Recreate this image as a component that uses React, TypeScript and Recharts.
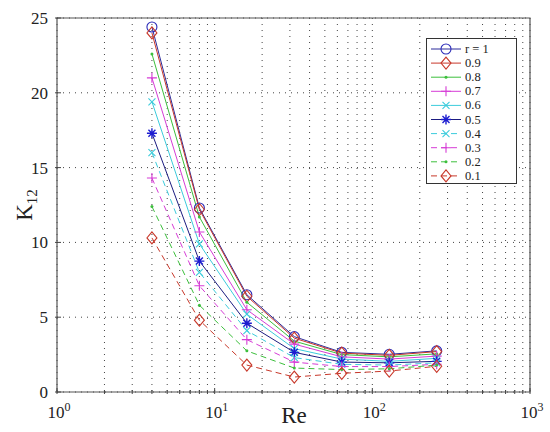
import React from "react";
import {
  CartesianGrid,
  Line,
  LineChart,
  ReferenceArea,
  XAxis,
  YAxis,
} from "recharts";

const RE = [4, 8, 16, 32, 64, 128, 256];

const R10 = [24.4, 12.3, 6.5, 3.7, 2.65, 2.52, 2.75];
const R09 = [24.0, 12.2, 6.4, 3.6, 2.6, 2.45, 2.7];
const R08 = [22.6, 11.7, 6.0, 3.4, 2.5, 2.35, 2.55];
const R07 = [21.0, 10.7, 5.5, 3.2, 2.35, 2.2, 2.4];
const R06 = [19.4, 9.9, 5.2, 2.9, 2.2, 2.05, 2.25];
const R05 = [17.3, 8.75, 4.6, 2.65, 2.0, 1.95, 2.05];
const R04 = [16.0, 8.0, 4.1, 2.3, 1.85, 1.8, 1.95];
const R03 = [14.3, 7.1, 3.5, 2.0, 1.7, 1.7, 1.85];
const R02 = [12.4, 5.8, 2.75, 1.6, 1.5, 1.55, 1.8];
const R01 = [10.3, 4.8, 1.8, 1.0, 1.25, 1.4, 1.72];

const X_TICKS = [
  1, 2, 3, 4, 5, 6, 7, 8, 9, 10, 20, 30, 40, 50, 60, 70, 80, 90, 100, 200,
  300, 400, 500, 600, 700, 800, 900, 1000,
];
const X_MAJOR = [1, 10, 100, 1000];
const X_MAJOR_EXP = ["0", "1", "2", "3"];
const Y_TICKS = [0, 5, 10, 15, 20, 25];

type Shape = "circle" | "diamond" | "point" | "plus" | "x" | "star";

const SERIES: {
  key: string;
  label: string;
  values: number[];
  color: string;
  marker: string;
  shape: Shape;
  dashed: boolean;
}[] = [
  { key: "r10", label: "r = 1", values: R10, color: "#2b2b9a", marker: "#2b2bb8", shape: "circle", dashed: false },
  { key: "r09", label: "0.9", values: R09, color: "#c8382a", marker: "#c8382a", shape: "diamond", dashed: false },
  { key: "r08", label: "0.8", values: R08, color: "#3cbf3c", marker: "#3cbf3c", shape: "point", dashed: false },
  { key: "r07", label: "0.7", values: R07, color: "#d63cd6", marker: "#d63cd6", shape: "plus", dashed: false },
  { key: "r06", label: "0.6", values: R06, color: "#3cccdc", marker: "#3cccdc", shape: "x", dashed: false },
  { key: "r05", label: "0.5", values: R05, color: "#1c1c80", marker: "#1c1cd0", shape: "star", dashed: false },
  { key: "r04", label: "0.4", values: R04, color: "#3cccdc", marker: "#3cccdc", shape: "x", dashed: true },
  { key: "r03", label: "0.3", values: R03, color: "#d63cd6", marker: "#d63cd6", shape: "plus", dashed: true },
  { key: "r02", label: "0.2", values: R02, color: "#3cbf3c", marker: "#3cbf3c", shape: "point", dashed: true },
  { key: "r01", label: "0.1", values: R01, color: "#c8382a", marker: "#c8382a", shape: "diamond", dashed: true },
];

const data = RE.map((re, i) => {
  const row: Record<string, number> = { re };
  SERIES.forEach((s) => {
    row[s.key] = s.values[i];
  });
  return row;
});

const FONT = "'Liberation Serif', 'DejaVu Serif', serif";

function Marker({ cx, cy, shape, color }: { cx: number; cy: number; shape: Shape; color: string }) {
  if (cx == null || cy == null) return null;
  const sw = 1.1;
  switch (shape) {
    case "circle":
      return <circle cx={cx} cy={cy} r={5} fill="none" stroke={color} strokeWidth={sw} />;
    case "diamond":
      return (
        <polygon
          points={`${cx},${cy - 6} ${cx + 5},${cy} ${cx},${cy + 6} ${cx - 5},${cy}`}
          fill="none"
          stroke={color}
          strokeWidth={sw}
        />
      );
    case "point":
      return <circle cx={cx} cy={cy} r={1.5} fill={color} stroke="none" />;
    case "plus":
      return (
        <path d={`M${cx - 5},${cy}H${cx + 5}M${cx},${cy - 5}V${cy + 5}`} stroke={color} strokeWidth={sw} fill="none" />
      );
    case "x":
      return (
        <path
          d={`M${cx - 3.5},${cy - 3.5}L${cx + 3.5},${cy + 3.5}M${cx - 3.5},${cy + 3.5}L${cx + 3.5},${cy - 3.5}`}
          stroke={color}
          strokeWidth={sw}
          fill="none"
        />
      );
    case "star":
      return (
        <path
          d={`M${cx - 5},${cy}H${cx + 5}M${cx},${cy - 5}V${cy + 5}M${cx - 3.5},${cy - 3.5}L${cx + 3.5},${cy + 3.5}M${cx - 3.5},${cy + 3.5}L${cx + 3.5},${cy - 3.5}`}
          stroke={color}
          strokeWidth={1.4}
          fill="none"
        />
      );
  }
  return null;
}

function BottomTick(props: any) {
  const { x, y, payload } = props;
  const idx = X_MAJOR.indexOf(payload.value);
  const len = idx >= 0 ? 6 : 4;
  return (
    <g>
      <line x1={x} x2={x} y1={y} y2={y - len} stroke="#444" />
      {idx >= 0 && (
        <text x={x + 2} y={y + 24} textAnchor="middle" fontFamily={FONT} fontSize={17} fill="#222">
          10
          <tspan dy={-7} fontSize={12}>
            {X_MAJOR_EXP[idx]}
          </tspan>
        </text>
      )}
    </g>
  );
}

function TopTick(props: any) {
  const { x, y, payload } = props;
  const len = X_MAJOR.includes(payload.value) ? 6 : 4;
  return <line x1={x} x2={x} y1={y} y2={y + len} stroke="#444" />;
}

function LeftTick(props: any) {
  const { x, y, payload } = props;
  return (
    <g>
      <line x1={x} x2={x + 6} y1={y} y2={y} stroke="#444" />
      <text x={x - 7} y={y + 6} textAnchor="end" fontFamily={FONT} fontSize={17} fill="#222">
        {payload.value}
      </text>
    </g>
  );
}

function RightTick(props: any) {
  const { x, y } = props;
  return <line x1={x} x2={x - 6} y1={y} y2={y} stroke="#444" />;
}

function LegendBox() {
  const rowH = 14.1;
  return (
    <svg width={92} height={147} style={{ position: "absolute", left: 426, top: 38 }}>
      <rect x={0.5} y={0.5} width={90} height={145} fill="#fff" stroke="#333" />
      {SERIES.map((s, i) => {
        const y = 11 + i * rowH;
        return (
          <g key={s.key}>
            <line
              x1={5}
              x2={35}
              y1={y}
              y2={y}
              stroke={s.color}
              strokeWidth={1}
              strokeDasharray={s.dashed ? "6 4" : undefined}
            />
            <Marker cx={20} cy={y} shape={s.shape} color={s.marker} />
            <text x={39} y={y + 4} fontFamily={FONT} fontSize={12.5} fill="#222">
              {s.label}
            </text>
          </g>
        );
      })}
    </svg>
  );
}

function AxisTitles() {
  return (
    <svg width={550} height={432} style={{ position: "absolute", left: 0, top: 0, pointerEvents: "none" }}>
      <text x={294} y={423} textAnchor="middle" fontFamily={FONT} fontSize={23} fill="#222">
        Re
      </text>
      <text
        transform="translate(32,205) rotate(-90)"
        textAnchor="middle"
        fontFamily={FONT}
        fontSize={23}
        fill="#222"
      >
        K
        <tspan dy={5} fontSize={15}>
          12
        </tspan>
      </text>
    </svg>
  );
}

export default function App() {
  return (
    <div style={{ position: "absolute", left: 0, top: 0, width: 550, height: 432, background: "#fff" }}>
      <LineChart width={550} height={432} data={data} margin={{ top: 18, right: 20, bottom: 0, left: 0 }}>
        <CartesianGrid stroke="#444" strokeDasharray="1 5" strokeWidth={1} />
        <XAxis
          dataKey="re"
          type="number"
          scale="log"
          domain={[1, 1000]}
          ticks={X_TICKS}
          interval={0}
          height={40}
          tickSize={0}
          tickLine={false}
          axisLine={false}
          tick={<BottomTick />}
          allowDataOverflow
        />
        <XAxis
          xAxisId="top"
          orientation="top"
          dataKey="re"
          type="number"
          scale="log"
          domain={[1, 1000]}
          ticks={X_TICKS}
          interval={0}
          height={0}
          tickSize={0}
          tickLine={false}
          axisLine={false}
          tick={<TopTick />}
          allowDataOverflow
        />
        <YAxis
          type="number"
          domain={[0, 25]}
          ticks={Y_TICKS}
          width={57}
          tickSize={0}
          tickLine={false}
          axisLine={false}
          tick={<LeftTick />}
        />
        <YAxis
          yAxisId="right"
          orientation="right"
          type="number"
          domain={[0, 25]}
          ticks={Y_TICKS}
          width={0}
          tickSize={0}
          tickLine={false}
          axisLine={false}
          tick={<RightTick />}
        />
        {SERIES.map((s) => (
          <Line
            key={s.key}
            dataKey={s.key}
            type="linear"
            stroke={s.color}
            strokeWidth={1}
            strokeDasharray={s.dashed ? "6 4" : undefined}
            dot={(p: any) => <Marker key={`${s.key}-${p.index}`} cx={p.cx} cy={p.cy} shape={s.shape} color={s.marker} />}
            activeDot={false}
            isAnimationActive={false}
          />
        ))}
        <ReferenceArea x1={1} x2={1000} y1={0} y2={25} fill="none" stroke="#555" strokeWidth={1.2} ifOverflow="visible" />
      </LineChart>
      <LegendBox />
      <AxisTitles />
    </div>
  );
}
